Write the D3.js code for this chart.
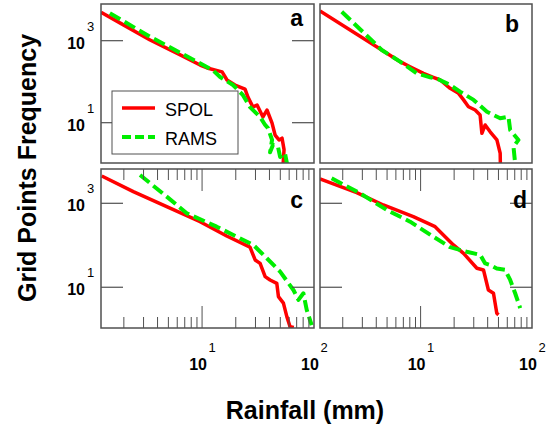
<!DOCTYPE html>
<html><head><meta charset="utf-8">
<script src="https://cdn.jsdelivr.net/npm/d3@7"></script>
<style>body{margin:0;background:#fff}svg{display:block}</style>
</head><body>
<svg id="chart" width="556" height="429"></svg>
<script>
// ---------------- data ----------------
const panelNames = ["a", "b", "c", "d"];
const seriesNames = ["SPOL", "RAMS"];
const yTickExponents = [3, 1];
const xTickExponents = [1, 2];
const xMinorTicks = [2, 3, 4, 5, 6, 7, 8, 9, 20, 30, 40, 50, 60, 70, 80, 90];
const xMajorTicks = [10];
const xTitle = "Rainfall (mm)";
const yTitle = "Grid Points Frequency";

// [rainfall (mm), frequency]
const spolA = [[1.25,4930],[2.0,2400],[3.43,1040],[6.0,490],[9.6,255],[11.1,216],[15.1,173],[16.7,110],[19.7,83],[24.2,66],[25.7,42],[28.5,24],[31,27],[35,13.8],[38,20.4],[42.2,9.8],[44.9,5.0],[48.7,3.8],[51.8,4.2],[54,2.2],[53,1.0]];
const ramsA = [[1.5,4660],[3.43,1250],[9.0,308],[12.5,190],[14.5,130],[18.9,83],[23.2,47],[26.8,24],[33,13.8],[36.6,8.8],[38.8,7.4],[42.2,3.8],[40.5,1.9],[43,2.9],[47.7,2.55],[49.8,1.46],[55,1.82],[57.4,1.0]];
const spolB = [[1.25,5300],[4.48,593],[6.55,308],[8.04,232],[10.6,160],[13.0,128],[15.0,110],[18.4,69],[21.9,52],[24.3,36],[26.9,24.5],[30.9,20.4],[34.2,15.4],[35.5,5.5],[38,8.8],[42.1,6.0],[48.4,3.8],[51.8,1.8],[52,1.0]];
const ramsB = [[1.96,5090],[4.48,593],[6.55,308],[9.25,160],[12.2,128],[14.4,115],[18.4,83],[22.6,57],[29.9,36],[39.4,18.5],[51.8,12.8],[61.5,14],[63.7,6.6],[75.6,3.8],[68.2,2.6],[70.6,1.0]];
const spolC = [[1.27,4470],[2.43,1890],[4.83,830],[9.6,365],[16.6,166],[26.8,90],[29.8,44.7],[33,37],[36.6,17.9],[40.5,14.9],[46.5,12.4],[48.1,6.0],[53.3,4.2],[57.2,2.0],[61.1,1.15],[66,1.1]];
const ramsC = [[2.79,4720],[4.83,1440],[7.3,578],[13.5,277],[19.0,176],[28.7,102],[37.9,49],[49.8,23.5],[65.5,8.6],[72.6,5.0],[80.4,7.2],[86.1,2.9],[95.3,1.26]];
const spolD = [[1.25,3800],[2.67,1790],[4.63,912],[8.6,480],[13.5,277],[19.7,102],[24.3,64],[32.0,28.3],[36.7,25.8],[40.6,8.6],[45.1,7.2],[48.3,2.4],[50,2.2]];
const ramsD = [[1.59,3940],[2.86,1730],[4.97,692],[8.04,365],[13.0,160],[18.4,90],[26.0,70],[34.3,59],[38,37],[42.1,34],[48.3,28],[57.4,26],[63.7,14.9],[70.6,7.2],[78.3,3.2]];

const panelData = { a: [spolA, ramsA], b: [spolB, ramsB], c: [spolC, ramsC], d: [spolD, ramsD] };

// ---------------- layout ----------------
const FONT = "'Liberation Sans', Arial, Helvetica, sans-serif";
const cols = [[101, 314], [320, 532]];
const rows = [[4, 163], [169, 328]];
const xDomain = [1.25, 100];
const yDomains = [[1.04, 7850], [1.07, 6560]];
const borderColor = "#505050";
const colors = ["#ff0000", "#00ee00"];
const yTicked = { a: true, b: false, c: true, d: true };

const svg = d3.select("#chart");
svg.append("rect").attr("width", 556).attr("height", 429).attr("fill", "#fff");

panelNames.forEach((name, i) => {
  const col = i % 2, row = Math.floor(i / 2);
  const [x0, x1] = cols[col], [y0, y1] = rows[row];
  const x = d3.scaleLog().domain(xDomain).range([x0, x1]);
  const y = d3.scaleLog().domain(yDomains[row]).range([y1, y0]);
  const g = svg.append("g");

  g.append("clipPath").attr("id", "clip" + name)
    .append("rect").attr("x", x0).attr("y", y0).attr("width", x1 - x0).attr("height", y1 - y0);

  // series
  const line = d3.line().x(d => x(d[0])).y(d => y(d[1]));
  panelData[name].forEach((series, si) => {
    g.append("path").datum(series)
      .attr("clip-path", `url(#clip${name})`)
      .attr("d", line)
      .attr("fill", "none")
      .attr("stroke", colors[si])
      .attr("stroke-width", si === 0 ? 3.5 : 4)
      .attr("stroke-dasharray", si === 0 ? null : "12,5")
      .attr("stroke-linejoin", "round");
  });

  // y ticks (inside, both sides)
  if (yTicked[name]) {
    yTickExponents.forEach(e => {
      const yy = y(Math.pow(10, e));
      g.append("line").attr("x1", x0).attr("x2", x0 + 22).attr("y1", yy).attr("y2", yy)
        .attr("stroke", borderColor).attr("stroke-width", 1.2);
      if (!(name === "c" && e === 3)) {
        g.append("line").attr("x1", x1 - 22).attr("x2", x1).attr("y1", yy).attr("y2", yy)
          .attr("stroke", borderColor).attr("stroke-width", 1.2);
      }
    });
  }

  // x ticks on bottom row (bottom and top, inward)
  if (row === 1) {
    const ticks = xMinorTicks.map(v => [v, 11]).concat(xMajorTicks.map(v => [v, 22]));
    ticks.forEach(([v, len]) => {
      const xx = x(v);
      g.append("line").attr("x1", xx).attr("x2", xx).attr("y1", y1).attr("y2", y1 - len)
        .attr("stroke", borderColor).attr("stroke-width", 1);
      g.append("line").attr("x1", xx).attr("x2", xx).attr("y1", y0).attr("y2", y0 + len)
        .attr("stroke", borderColor).attr("stroke-width", 1);
    });
    xTickExponents.forEach(e => {
      const xx = x(Math.pow(10, e));
      svg.append("text").attr("x", xx - 4).attr("y", 370).attr("text-anchor", "middle")
        .attr("font-family", FONT).attr("font-size", 16).attr("font-weight", "bold").text("10");
      svg.append("text").attr("x", xx + 10).attr("y", 352).attr("text-anchor", "middle")
        .attr("font-family", FONT).attr("font-size", 13).text(String(e));
    });
  }

  // y tick labels on left column
  if (col === 0) {
    yTickExponents.forEach(e => {
      const yy = y(Math.pow(10, e));
      svg.append("text").attr("x", 85).attr("y", yy + 8).attr("text-anchor", "end")
        .attr("font-family", FONT).attr("font-size", 16).attr("font-weight", "bold").text("10");
      svg.append("text").attr("x", 87).attr("y", yy - 10).attr("text-anchor", "start")
        .attr("font-family", FONT).attr("font-size", 13).text(String(e));
    });
  }

  // border
  g.append("rect").attr("x", x0).attr("y", y0).attr("width", x1 - x0).attr("height", y1 - y0)
    .attr("fill", "none").attr("stroke", borderColor).attr("stroke-width", 1.5);

  // panel letter
  const labelPos = { a: [303, 26], b: [519, 32], c: [303, 208], d: [527, 208] };
  g.append("text").attr("x", labelPos[name][0]).attr("y", labelPos[name][1])
    .attr("text-anchor", "end").attr("font-family", FONT).attr("font-size", 23)
    .attr("font-weight", "bold").text(name);

  // legend in panel a
  if (name === "a") {
    const lg = g.append("g");
    lg.append("rect").attr("x", 112).attr("y", 91).attr("width", 126).attr("height", 63)
      .attr("fill", "#fff").attr("stroke", borderColor).attr("stroke-width", 1);
    seriesNames.forEach((s, si) => {
      const ly = si === 0 ? 108 : 137;
      lg.append("line").attr("x1", 122).attr("x2", 155).attr("y1", ly).attr("y2", ly)
        .attr("stroke", colors[si]).attr("stroke-width", si === 0 ? 3.5 : 4)
        .attr("stroke-dasharray", si === 0 ? null : "9,4");
      lg.append("text").attr("x", 165).attr("y", ly + 8).attr("font-family", FONT)
        .attr("font-size", 18).text(s);
    });
  }
});

// axis titles
svg.append("text").attr("x", 305).attr("y", 419).attr("text-anchor", "middle")
  .attr("font-family", FONT).attr("font-size", 25).attr("font-weight", "bold").text(xTitle);
svg.append("text").attr("transform", "translate(36,168) rotate(-90)").attr("text-anchor", "middle")
  .attr("font-family", FONT).attr("font-size", 25).attr("font-weight", "bold").text(yTitle);
</script>
</body></html>
